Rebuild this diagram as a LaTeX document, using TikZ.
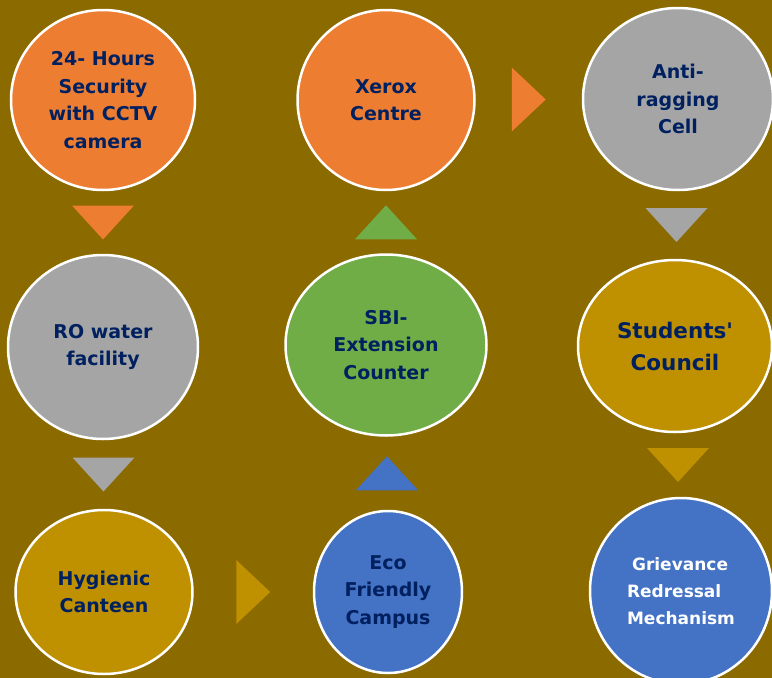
\documentclass[tikz,border=0pt]{standalone}
\usepackage{fontspec}
\setmainfont{DejaVu Sans}[Ligatures=TeXOff]
\usetikzlibrary{shapes.geometric,calc}
\definecolor{bg}{RGB}{139,106,0}
\definecolor{corange}{RGB}{237,125,49}
\definecolor{cgray}{RGB}{165,165,165}
\definecolor{cgold}{RGB}{191,144,0}
\definecolor{cgreen}{RGB}{112,173,71}
\definecolor{cblue}{RGB}{68,114,196}
\definecolor{navy}{RGB}{0,32,96}
\tikzset{
  bub/.style={ellipse, draw=white, line width=2.5pt, inner sep=0pt, align=center,
    text=navy, font=\bfseries\fontsize{19}{27.5}\selectfont},
}
\begin{document}
\begin{tikzpicture}[x=1pt,y=-1pt]
\fill[bg] (0,0) rectangle (772,678);
\useasboundingbox (0,0) rectangle (772,678);
% row 1
\node[bub, fill=corange, minimum width=184, minimum height=180] (sec) at (103,100) {24- Hours\\Security\\with CCTV\\camera};
\node[bub, fill=corange, minimum width=177, minimum height=180] (xer) at (386,100) {Xerox\\Centre};
\node[bub, fill=cgray, minimum width=190, minimum height=182] (anti) at (678,99) {Anti-\\ragging\\Cell};
% row 2
\node[bub, fill=cgray, minimum width=190, minimum height=184] (ro) at (103,347) {RO water\\facility};
\node[bub, fill=cgreen, minimum width=201, minimum height=181] (sbi) at (386,345) {SBI-\\Extension\\Counter};
\node[bub, fill=cgold, minimum width=194, minimum height=172, font=\bfseries\fontsize{21.5}{32}\selectfont] (stu) at (675,346) {Students'\\Council};
% row 3
\node[bub, fill=cgold, minimum width=177, minimum height=164] (hyg) at (104,592) {Hygienic\\Canteen};
\node[bub, fill=cblue, minimum width=148, minimum height=162] (eco) at (388,592) {Eco\\Friendly\\Campus};
\node[bub, fill=cblue, minimum width=182, minimum height=186, text=white, align=left, font=\bfseries\fontsize{17}{27}\selectfont] (gri) at (681,591) {\hspace*{5pt}Grievance\\Redressal\\Mechanism};
% markers
\coordinate (t1) at ($(sec.south)!0.5!(ro.north)$);
\fill[corange] ($(t1)+(-31,-17)$) -- ($(t1)+(31,-17)$) -- ($(t1)+(0,17)$) -- cycle;
\coordinate (t2) at ($(ro.south)!0.5!(hyg.north)$);
\fill[cgray] ($(t2)+(-31,-17)$) -- ($(t2)+(31,-17)$) -- ($(t2)+(0,17)$) -- cycle;
\coordinate (t3) at ($(hyg.east)!0.5!(eco.west)$);
\fill[cgold] ($(t3)+(-17,-32)$) -- ($(t3)+(-17,32)$) -- ($(t3)+(17,0)$) -- cycle;
\coordinate (t4) at ($(eco.north)!0.5!(sbi.south)$);
\fill[cblue] ($(t4)+(-31,17)$) -- ($(t4)+(31,17)$) -- ($(t4)+(0,-17)$) -- cycle;
\coordinate (t5) at ($(sbi.north)!0.5!(xer.south)$);
\fill[cgreen] ($(t5)+(-31,17)$) -- ($(t5)+(31,17)$) -- ($(t5)+(0,-17)$) -- cycle;
\coordinate (t6) at ($(xer.east)!0.5!(anti.west)$);
\fill[corange] ($(t6)+(-17,-32)$) -- ($(t6)+(-17,32)$) -- ($(t6)+(17,0)$) -- cycle;
\coordinate (t7) at ($(anti.south)!0.5!(stu.north)$);
\fill[cgray] ($(t7)+(-31,-17)$) -- ($(t7)+(31,-17)$) -- ($(t7)+(0,17)$) -- cycle;
\coordinate (t8) at ($(stu.south)!0.5!(gri.north)$);
\fill[cgold] ($(t8)+(-31,-17)$) -- ($(t8)+(31,-17)$) -- ($(t8)+(0,17)$) -- cycle;
\end{tikzpicture}
\end{document}
